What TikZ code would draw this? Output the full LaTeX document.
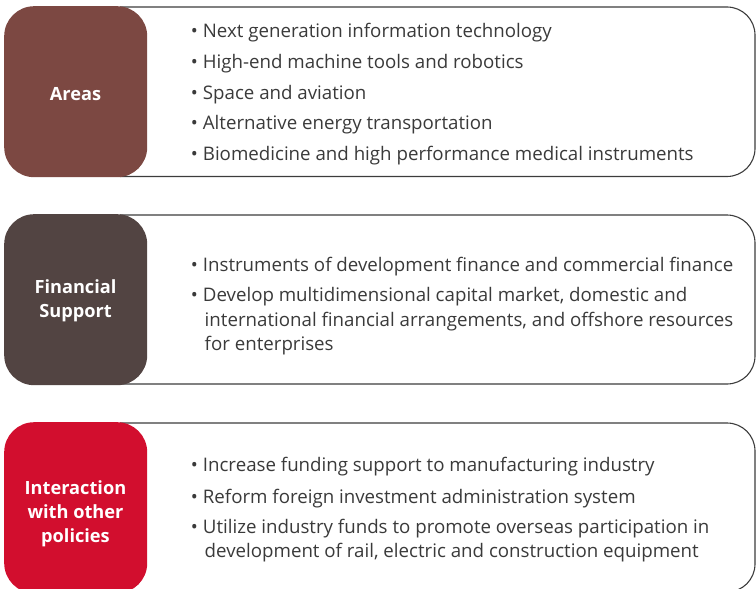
\documentclass[tikz,border=0pt]{standalone}
\usepackage{fontspec}
\setmainfont{Open Sans}
\definecolor{areasc}{HTML}{7C4842}
\definecolor{financec}{HTML}{524442}
\definecolor{interc}{HTML}{D20E2E}
\definecolor{textc}{HTML}{3A3A3A}
\definecolor{framec}{HTML}{3C3C3C}
\newcommand{\bulletmark}{\makebox[0pt][r]{\textbullet\hspace{5pt}}}
\begin{document}
\begin{tikzpicture}[x=1pt,y=-1pt,
  frame/.style={draw=framec,line width=1.1pt,rounded corners=28pt},
  heading/.style={rounded corners=30pt,minimum width=143pt,minimum height=171pt,
    inner sep=0pt,anchor=north west},
  headtext/.style={anchor=base,inner sep=0pt,text=white,
    font=\fontsize{18.2}{24}\selectfont\bfseries},
  item/.style={anchor=base west,inner sep=0pt,text=textc,
    font=\fontsize{18.7}{24}\selectfont}]
  \useasboundingbox (0,0) rectangle (756,589);
  \clip (0,0) rectangle (756,589);

  % outlined panels, rounded on the right
  \draw[frame] (120,7) -- (755,7) -- (755,176.5) -- (120,176.5);
  \draw[frame] (120,215) -- (755,215) -- (755,384) -- (120,384);
  \draw[frame] (120,423) -- (755,423) -- (755,592) -- (120,592);

  % coloured headings
  \node[heading,fill=areasc] (areas) at (4,6) {};
  \node[heading,fill=financec] (fin) at (4,214) {};
  \node[heading,fill=interc] (inter) at (4,422) {};

  \node[headtext] (areasT) at (75.5,100) {Areas};
  \node[headtext] (finT1) at (75.5,293.3) {Financial};
  \node[headtext] (finT2) at (75.5,317.3) {Support};
  \node[headtext] (interT1) at (75.5,494) {Interaction};
  \node[headtext] (interT2) at (75.5,518) {with other};
  \node[headtext] (interT3) at (75.5,542) {policies};

  % areas
  \node[item] (a1) at (202.7,37.7) {\bulletmark Next generation information technology};
  \node[item] (a2) at (202.7,68.4) {\bulletmark High-end machine tools and robotics};
  \node[item] (a3) at (202.7,99.1) {\bulletmark Space and aviation};
  \node[item] (a4) at (202.7,129.9) {\bulletmark Alternative energy transportation};
  \node[item] (a5) at (202.7,160.7) {\bulletmark Biomedicine and high performance medical instruments};

  % financial support
  \node[item] (f1) at (202.7,271.7) {\bulletmark Instruments of development finance and commercial finance};
  \node[item] (f2) at (202.7,301.7) {\bulletmark Develop multidimensional capital market, domestic and};
  \node[item] (f3) at (204.5,326) {international financial arrangements, and offshore resources};
  \node[item] (f4) at (204.5,350.3) {for enterprises};

  % interaction with other policies
  \node[item] (i1) at (202.7,471.7) {\bulletmark Increase funding support to manufacturing industry};
  \node[item] (i2) at (202.7,503) {\bulletmark Reform foreign investment administration system};
  \node[item] (i3) at (202.7,533.3) {\bulletmark Utilize industry funds to promote overseas participation in};
  \node[item] (i4) at (204.5,557.5) {development of rail, electric and construction equipment};
\end{tikzpicture}
\end{document}
